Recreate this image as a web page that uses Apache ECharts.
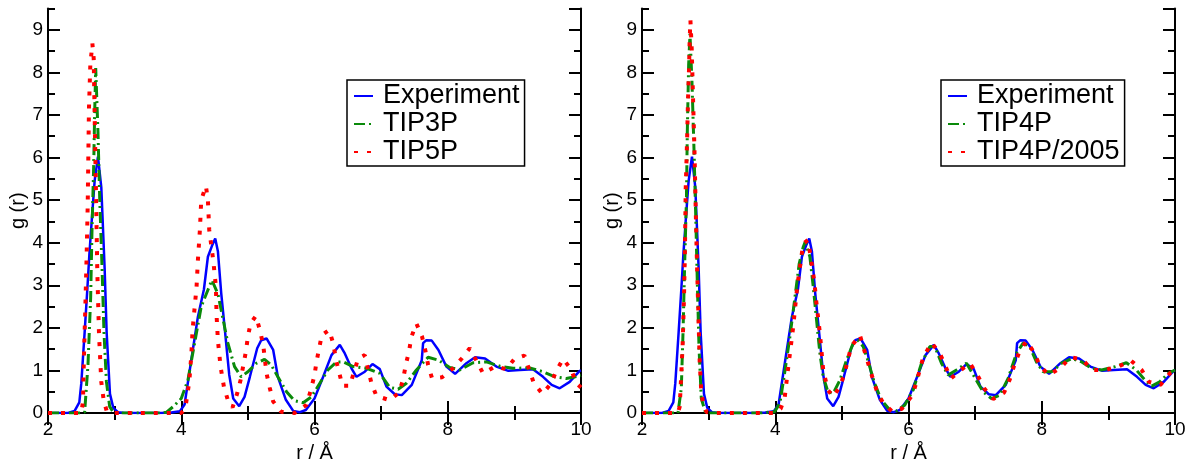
<!DOCTYPE html>
<html>
<head>
<meta charset="utf-8">
<script src="https://cdn.jsdelivr.net/npm/echarts@6/dist/echarts.min.js"></script>
<style>
html,body{margin:0;padding:0;background:#fff;}
#chart{width:1194px;height:463px;}
</style>
</head>
<body>
<div id="chart"></div>
<script>
// ---- Data (r in Å, g(r)) ----
const experiment = [[2.0,0],[2.3,0],[2.4,0.05],[2.47,0.25],[2.5,0.7],[2.55,1.9],[2.59,2.9],[2.62,3.7],[2.66,4.6],[2.7,5.45],[2.75,6.02],[2.8,5.3],[2.85,3.4],[2.88,1.9],[2.93,0.45],[2.98,0.12],[3.05,0.02],[3.15,0],[3.7,0],[3.85,0.01],[3.98,0.04],[4.05,0.2],[4.15,1.24],[4.25,2.26],[4.34,2.9],[4.4,3.67],[4.46,3.92],[4.51,4.1],[4.55,3.8],[4.6,2.81],[4.65,2.03],[4.72,0.9],[4.78,0.34],[4.87,0.16],[4.95,0.38],[5.03,0.85],[5.14,1.52],[5.2,1.71],[5.28,1.75],[5.38,1.48],[5.45,0.85],[5.57,0.31],[5.68,0.05],[5.78,0.02],[5.87,0.07],[6.0,0.34],[6.13,0.85],[6.255,1.36],[6.38,1.6],[6.455,1.4],[6.555,1.05],[6.63,0.85],[6.755,0.97],[6.87,1.15],[6.98,1.03],[7.08,0.62],[7.205,0.44],[7.31,0.42],[7.46,0.66],[7.61,1.24],[7.63,1.64],[7.68,1.71],[7.76,1.7],[7.86,1.48],[7.98,1.09],[8.11,0.92],[8.28,1.17],[8.41,1.31],[8.56,1.28],[8.73,1.09],[8.91,0.99],[9.08,1.01],[9.28,1.03],[9.43,0.85],[9.56,0.66],[9.68,0.58],[9.83,0.73],[9.98,0.99],[10.0,1.0]];

const tip3p = [[2.0,0],[2.5,0],[2.55,0.02],[2.6,1.13],[2.64,2.7],[2.66,4.26],[2.686,5.82],[2.7,7.0],[2.716,8.1],[2.75,6.6],[2.776,5.04],[2.81,3.47],[2.84,1.9],[2.877,0.73],[2.926,0.15],[2.98,0.02],[3.05,0],[3.7,0],[3.78,0.02],[3.88,0.15],[4.0,0.34],[4.1,0.77],[4.2,1.64],[4.3,2.5],[4.4,2.89],[4.46,3.12],[4.55,2.8],[4.63,2.18],[4.7,1.64],[4.8,1.09],[4.9,0.85],[5.0,0.97],[5.13,1.17],[5.25,1.26],[5.35,1.13],[5.45,0.85],[5.58,0.5],[5.7,0.29],[5.83,0.24],[5.955,0.38],[6.08,0.7],[6.2,1.01],[6.33,1.2],[6.43,1.2],[6.58,1.09],[6.78,1.05],[6.98,0.93],[7.13,0.6],[7.255,0.56],[7.38,0.7],[7.53,1.01],[7.705,1.31],[7.86,1.24],[8.03,1.07],[8.18,1.01],[8.38,1.18],[8.58,1.2],[8.78,1.1],[8.98,1.05],[9.23,1.06],[9.43,0.97],[9.61,0.85],[9.78,0.81],[9.98,0.87],[10.0,0.88]];

const tip5p = [[2.0,0],[2.5,0],[2.525,0.27],[2.54,1.36],[2.56,2.46],[2.58,3.7],[2.596,4.88],[2.605,5.98],[2.615,7.16],[2.635,8.17],[2.666,8.68],[2.686,8.33],[2.7,7.0],[2.72,5.2],[2.74,3.32],[2.766,1.83],[2.8,0.73],[2.836,0.3],[2.88,0.05],[2.95,0],[4.0,0],[4.06,0.1],[4.12,0.73],[4.15,1.33],[4.17,1.95],[4.2,2.46],[4.23,2.97],[4.25,3.59],[4.28,4.3],[4.3,5.0],[4.37,5.33],[4.4,5.0],[4.42,4.3],[4.48,3.59],[4.52,2.97],[4.53,2.3],[4.55,1.71],[4.59,1.09],[4.64,0.62],[4.7,0.3],[4.77,0.13],[4.84,0.46],[4.89,0.77],[4.97,1.44],[5.0,1.79],[5.04,2.1],[5.12,2.28],[5.18,1.95],[5.23,1.6],[5.28,0.93],[5.33,0.58],[5.38,0.27],[5.5,0.03],[5.7,0.0],[5.88,0.19],[5.945,0.54],[6.0,0.89],[6.03,1.2],[6.07,1.52],[6.11,1.83],[6.22,1.95],[6.28,1.64],[6.33,1.2],[6.42,0.64],[6.53,0.64],[6.655,1.28],[6.755,1.36],[6.8,1.05],[6.855,0.7],[6.93,0.4],[7.13,0.3],[7.27,0.48],[7.33,0.79],[7.37,1.13],[7.42,1.46],[7.455,1.79],[7.53,2.1],[7.615,1.79],[7.665,1.46],[7.705,1.13],[7.765,0.81],[7.915,0.84],[8.08,1.05],[8.21,1.28],[8.33,1.52],[8.43,1.23],[8.53,0.93],[8.71,1.09],[8.88,1.03],[9.0,1.27],[9.15,1.35],[9.22,1.03],[9.29,0.71],[9.42,0.45],[9.545,0.68],[9.63,0.99],[9.73,1.27],[9.85,1.03],[9.93,0.7],[10.0,0.6]];

const tip4p = [[2.0,0],[2.54,0],[2.59,0.58],[2.616,1.91],[2.64,3.47],[2.667,5.04],[2.68,6.6],[2.7,8.17],[2.72,8.9],[2.75,7.78],[2.78,6.21],[2.806,4.65],[2.83,3.08],[2.856,1.52],[2.89,0.34],[2.95,0.03],[3.0,0],[3.8,0],[3.99,0.03],[4.07,0.23],[4.14,0.93],[4.22,1.79],[4.29,2.65],[4.36,3.51],[4.42,3.9],[4.45,4.02],[4.52,3.67],[4.57,2.97],[4.62,2.18],[4.67,1.4],[4.72,0.85],[4.79,0.5],[4.87,0.46],[4.97,0.77],[5.07,1.24],[5.17,1.64],[5.24,1.71],[5.32,1.56],[5.39,1.24],[5.49,0.7],[5.59,0.31],[5.72,0.07],[5.82,0.05],[5.945,0.19],[6.07,0.54],[6.195,1.17],[6.32,1.56],[6.395,1.56],[6.495,1.17],[6.595,0.89],[6.72,1.01],[6.87,1.17],[7.0,0.82],[7.12,0.5],[7.245,0.34],[7.37,0.42],[7.495,0.81],[7.62,1.4],[7.72,1.64],[7.82,1.56],[7.92,1.2],[8.02,0.97],[8.15,0.97],[8.3,1.17],[8.45,1.28],[8.6,1.2],[8.75,1.05],[8.9,1.01],[9.1,1.09],[9.27,1.18],[9.42,1.01],[9.55,0.77],[9.65,0.63],[9.77,0.73],[9.9,0.93],[10.0,1.01]];

const tip4p2005 = [[2.0,0],[2.54,0],[2.566,0.15],[2.61,1.6],[2.63,2.69],[2.645,3.87],[2.656,5.27],[2.676,6.37],[2.69,7.31],[2.706,8.09],[2.716,8.8],[2.727,9.22],[2.746,8.56],[2.766,7.39],[2.787,6.21],[2.806,4.8],[2.826,3.47],[2.847,2.3],[2.866,1.2],[2.89,0.5],[2.92,0.2],[2.97,0.02],[3.05,0],[4.0,0],[4.08,0.1],[4.14,0.34],[4.19,1.01],[4.27,2.03],[4.33,2.97],[4.42,3.98],[4.49,4.06],[4.54,3.59],[4.59,3.04],[4.61,2.7],[4.67,1.87],[4.72,1.01],[4.79,0.54],[4.87,0.38],[4.97,0.62],[5.04,0.93],[5.14,1.56],[5.27,1.83],[5.35,1.4],[5.44,0.93],[5.52,0.54],[5.62,0.23],[5.76,0.03],[5.9,0.1],[6.06,0.42],[6.12,0.73],[6.22,1.3],[6.345,1.65],[6.47,1.4],[6.635,0.81],[6.77,0.99],[6.92,1.17],[7.035,0.89],[7.135,0.58],[7.27,0.33],[7.435,0.48],[7.52,0.79],[7.585,1.11],[7.66,1.42],[7.77,1.69],[7.885,1.42],[7.97,1.11],[8.105,0.89],[8.29,1.07],[8.43,1.31],[8.61,1.26],[8.75,1.01],[8.95,1.01],[9.15,1.09],[9.34,1.23],[9.5,1.01],[9.61,0.73],[9.78,0.66],[9.92,0.93],[10.0,1.0]];

const xLabel = 'r / Å';
const yLabel = 'g (r)';
const leftLegend = ['Experiment', 'TIP3P', 'TIP5P'];
const rightLegend = ['Experiment', 'TIP4P', 'TIP4P/2005'];

// ---- Styles ----
const FONT = 'Liberation Sans, Arial, sans-serif';
const styleExp = {color: '#0000ff', width: 2.5, type: 'solid'};
const styleGreen = {color: '#0a8a0a', width: 3, type: [11, 4, 2, 4], cap: 'butt'};
const styleRed = {color: '#ff0000', width: 4, type: [4, 9], cap: 'butt'};

const grids = [
  {left: 48, right: 613, top: 8.5, bottom: 50, outerBoundsMode: 'none', containLabel: false},
  {left: 642, right: 19, top: 8.5, bottom: 50, outerBoundsMode: 'none', containLabel: false}
];

function xAxes(gi) {
  const base = {
    type: 'value', gridIndex: gi, min: 2, max: 10, interval: 2,
    axisLine: {show: true, lineStyle: {color: '#000', width: 2}},
    axisTick: {show: true, inside: true, length: 12, lineStyle: {color: '#000', width: 2}},
    minorTick: {show: true, splitNumber: 2, length: 7, lineStyle: {color: '#000', width: 2}},
    splitLine: {show: false}, minorSplitLine: {show: false}
  };
  return [
    Object.assign({}, base, {position: 'bottom',
      axisLabel: {show: true, color: '#000', fontSize: 19, fontFamily: FONT, margin: 7},
      name: xLabel, nameLocation: 'middle', nameGap: 27,
      nameTextStyle: {color: '#000', fontSize: 20, fontFamily: FONT}}),
    Object.assign({}, base, {position: 'top', axisLabel: {show: false}})
  ];
}

function yAxes(gi) {
  const major = {
    type: 'value', gridIndex: gi, min: 0, max: 9.5, interval: 1,
    axisLine: {show: true, lineStyle: {color: '#000', width: 2}},
    axisTick: {show: true, inside: true, length: 12, lineStyle: {color: '#000', width: 2}},
    splitLine: {show: false}
  };
  const minor = {
    type: 'value', gridIndex: gi, min: 0, max: 9.5, interval: 0.5,
    axisLine: {show: false},
    axisTick: {show: true, inside: true, length: 7, lineStyle: {color: '#000', width: 2}},
    axisLabel: {show: false},
    splitLine: {show: false}
  };
  return [
    Object.assign({}, major, {position: 'left',
      axisLabel: {show: true, color: '#000', fontSize: 19, fontFamily: FONT, margin: 5, showMaxLabel: false},
      name: yLabel, nameLocation: 'middle', nameGap: 19, nameRotate: 90,
      nameTextStyle: {color: '#000', fontSize: 20, fontFamily: FONT}}),
    Object.assign({}, minor, {position: 'left'}),
    Object.assign({}, major, {position: 'right', axisLabel: {show: false}}),
    Object.assign({}, minor, {position: 'right'})
  ];
}

function line(name, data, style, xi, yi) {
  return {
    type: 'line', name: name, data: data, xAxisIndex: xi, yAxisIndex: yi,
    showSymbol: false, symbol: 'none', smooth: false, animation: false,
    lineStyle: style, itemStyle: {color: style.color}, z: 2
  };
}

function legend(left, names) {
  return {
    show: true, orient: 'vertical', left: left, top: 80,
    data: names,
    backgroundColor: '#fff',
    borderColor: '#000', borderWidth: 1.5,
    padding: [2, 5, 0, 6],
    itemWidth: 19, itemHeight: 10, itemGap: 0,
    itemStyle: {opacity: 0},
    textStyle: {color: '#000', fontSize: 27, fontFamily: FONT, lineHeight: 28, padding: [0, 0, 0, 5]},
    selectedMode: false
  };
}

const chart = echarts.init(document.getElementById('chart'), null, {renderer: 'canvas'});
chart.setOption({
  animation: false,
  backgroundColor: '#fff',
  grid: grids,
  xAxis: xAxes(0).concat(xAxes(1)),
  yAxis: yAxes(0).concat(yAxes(1)),
  legend: [legend(347, leftLegend), legend(941, rightLegend)],
  series: [
    line('Experiment', experiment, styleExp, 0, 0),
    line('TIP3P', tip3p, styleGreen, 0, 0),
    line('TIP5P', tip5p, styleRed, 0, 0),
    line('Experiment', experiment, styleExp, 2, 4),
    line('TIP4P', tip4p, styleGreen, 2, 4),
    line('TIP4P/2005', tip4p2005, styleRed, 2, 4)
  ]
});
</script>
</body>
</html>
